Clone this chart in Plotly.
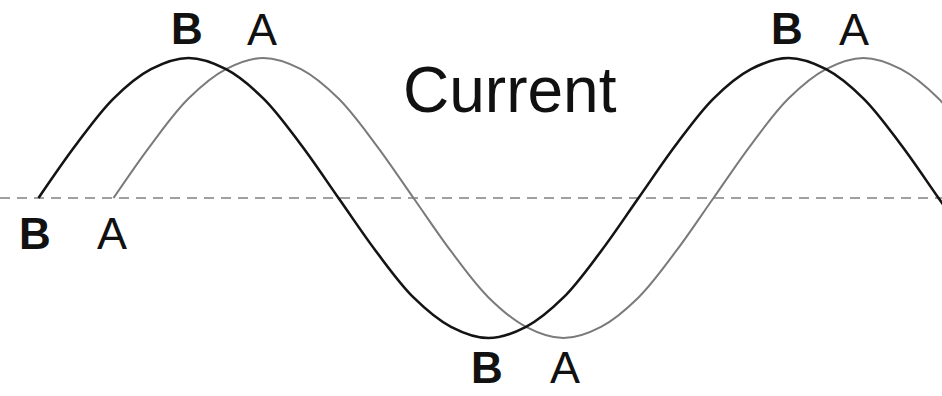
import plotly.graph_objects as go

# phase angle in degrees (22.5 degree steps)
phase_b = [0, 22.5, 45, 67.5, 90, 112.5, 135, 157.5, 180, 202.5, 225, 247.5, 270,
           292.5, 315, 337.5, 360, 382.5, 405, 427.5, 450, 472.5, 495, 517.5, 540, 562.5]
current_b = [0, 0.38, 0.71, 0.92, 1, 0.92, 0.71, 0.38, 0, -0.38, -0.71, -0.92, -1,
             -0.92, -0.71, -0.38, 0, 0.38, 0.71, 0.92, 1, 0.92, 0.71, 0.38, 0, -0.38]

phase_a = [45, 67.5, 90, 112.5, 135, 157.5, 180, 202.5, 225, 247.5, 270, 292.5, 315,
           337.5, 360, 382.5, 405, 427.5, 450, 472.5, 495, 517.5, 540, 562.5]
current_a = [0, 0.38, 0.71, 0.92, 1, 0.92, 0.71, 0.38, 0, -0.38, -0.71, -0.92, -1,
             -0.92, -0.71, -0.38, 0, 0.38, 0.71, 0.92, 1, 0.92, 0.71, 0.38]

# label positions (phase, current) and texts
label_text = ["B", "A", "B", "A", "B", "A", "B", "A"]
label_x = [89, 134, 449, 489, -2, 44, 269, 316]
label_y = [1.21, 1.2, 1.21, 1.2, -0.25, -0.25, -1.21, -1.21]
title_text = "Current"
title_pos = (283, 0.77)

fig = go.Figure()
fig.add_shape(type="line", xref="paper", x0=0, x1=1, yref="y", y0=0, y1=0,
              line=dict(color="#a0a0a0", width=2, dash="10px,7px"), layer="below")
fig.add_trace(go.Scatter(x=phase_a, y=current_a, mode="lines", line_shape="spline",
                         line=dict(color="#7a7a7a", width=2), hoverinfo="skip"))
fig.add_trace(go.Scatter(x=phase_b, y=current_b, mode="lines", line_shape="spline",
                         line=dict(color="#141414", width=2.6), hoverinfo="skip"))

for t, x, y in zip(label_text, label_x, label_y):
    bold = t == "B"
    fig.add_annotation(x=x, y=y, text=t, showarrow=False, xanchor="center", yanchor="middle",
                       font=dict(family="Liberation Sans, Arial", size=45 if not bold else 44,
                                 color="#111111", weight="bold" if bold else "normal"))
fig.add_annotation(x=title_pos[0], y=title_pos[1], text=title_text, showarrow=False,
                   xanchor="center", yanchor="middle",
                   font=dict(family="Liberation Sans, Arial", size=64, color="#111111"))

fig.update_layout(width=942, height=396, margin=dict(l=0, r=0, t=0, b=0),
                  paper_bgcolor="white", plot_bgcolor="white", showlegend=False,
                  xaxis=dict(range=[-23.1, 542.1], visible=False, fixedrange=True),
                  yaxis=dict(range=[-1.414, 1.414], visible=False, fixedrange=True))
fig.write_html("out.html", config={"displayModeBar": False},
               post_script="document.body.style.margin='0';document.body.style.padding='0';document.body.style.overflow='hidden';")
